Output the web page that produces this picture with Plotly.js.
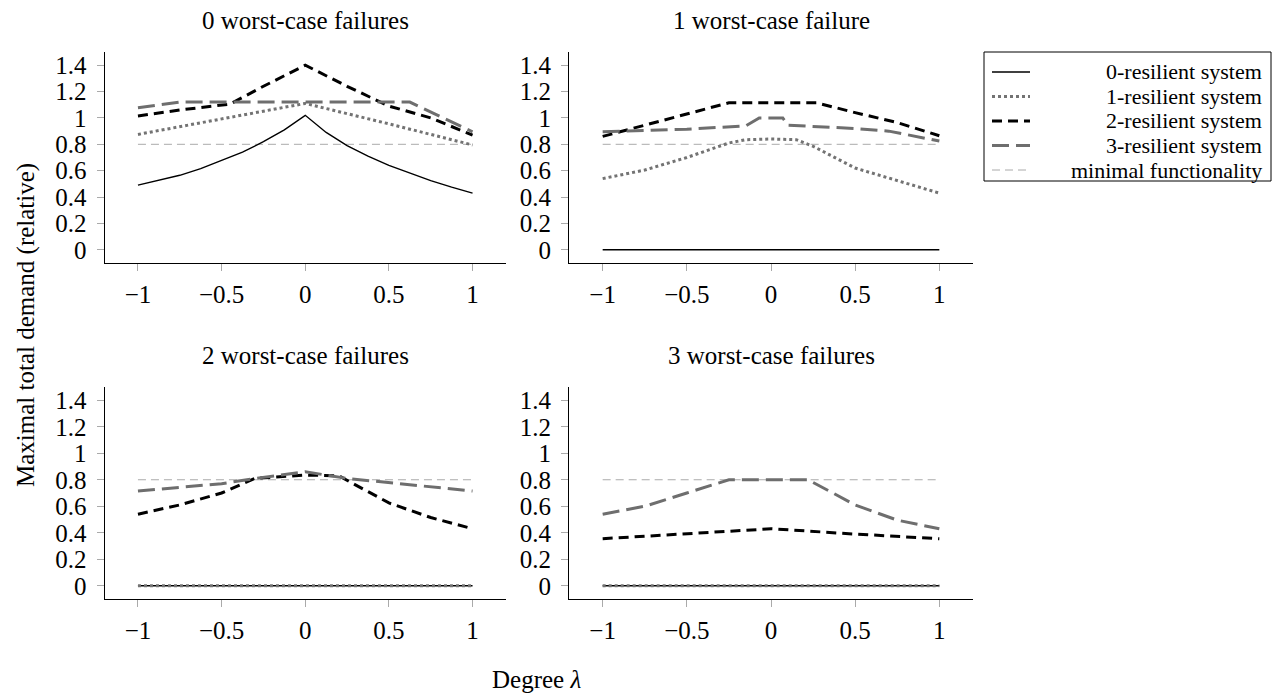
<!DOCTYPE html>
<html><head><meta charset="utf-8">
<script src="https://cdn.plot.ly/plotly-3.0.1.min.js"></script>
<style>body{margin:0;background:#fff}#chart{width:1276px;height:695px}</style>
</head><body><div id="chart"></div>
<script>
// ---------- data ----------
const panelTitles = ['0 worst-case failures','1 worst-case failure','2 worst-case failures','3 worst-case failures'];
const seriesNames = ['0-resilient system','1-resilient system','2-resilient system','3-resilient system','minimal functionality'];
const xTickVals = [-1,-0.5,0,0.5,1];
const xTickText = ['−1','−0.5','0','0.5','1'];
const yTickVals = [0,0.2,0.4,0.6,0.8,1,1.2,1.4];
const yTickText = ['0','0.2','0.4','0.6','0.8','1','1.2','1.4'];

// panel 0: 0 worst-case failures
const p0_res0_x = [-1,-0.875,-0.75,-0.625,-0.5,-0.375,-0.25,-0.125,0,0.125,0.25,0.375,0.5,0.625,0.75,0.875,1];
const p0_res0_y = [0.49,0.525,0.565,0.615,0.675,0.74,0.82,0.91,1.02,0.89,0.79,0.71,0.64,0.58,0.525,0.475,0.43];
const p0_res1_x = [-1,-0.5,0,0.5,1];
const p0_res1_y = [0.875,0.995,1.11,0.955,0.795];
const p0_res2_x = [-1,-0.75,-0.45,-0.25,0,0.25,0.5,0.75,1];
const p0_res2_y = [1.015,1.06,1.105,1.24,1.40,1.24,1.09,1.0,0.87];
const p0_res3_x = [-1,-0.75,0,0.625,1];
const p0_res3_y = [1.078,1.12,1.12,1.12,0.895];

// panel 1: 1 worst-case failure
const p1_res0_x = [-1,1];
const p1_res0_y = [0,0];
const p1_res1_x = [-1,-0.75,-0.5,-0.25,-0.15,0,0.15,0.25,0.5,0.75,1];
const p1_res1_y = [0.54,0.605,0.70,0.81,0.835,0.84,0.835,0.785,0.62,0.525,0.43];
const p1_res2_x = [-1,-0.5,-0.25,0,0.27,0.5,0.75,1];
const p1_res2_y = [0.86,1.03,1.115,1.115,1.115,1.04,0.965,0.865];
const p1_res3_x = [-1,-0.5,-0.15,-0.07,0,0.07,0.1,0.5,0.7,1];
const p1_res3_y = [0.895,0.915,0.94,1.0,1.0,1.0,0.945,0.92,0.9,0.825];

// panel 2: 2 worst-case failures
const p2_res0_x = [-1,1];
const p2_res0_y = [0,0];
const p2_res1_x = [-1,1];
const p2_res1_y = [0,0];
const p2_res2_x = [-1,-0.75,-0.5,-0.3,0,0.2,0.5,0.75,1];
const p2_res2_y = [0.54,0.61,0.70,0.81,0.835,0.83,0.625,0.515,0.43];
const p2_res3_x = [-1,-0.5,-0.3,0,0.25,0.5,1];
const p2_res3_y = [0.715,0.77,0.81,0.86,0.81,0.78,0.715];

// panel 3: 3 worst-case failures
const p3_res0_x = [-1,1];
const p3_res0_y = [0,0];
const p3_res1_x = [-1,1];
const p3_res1_y = [0,0];
const p3_res2_x = [-1,-0.5,0,0.5,1];
const p3_res2_y = [0.355,0.39,0.43,0.39,0.355];
const p3_res3_x = [-1,-0.75,-0.5,-0.25,0,0.22,0.5,0.75,1];
const p3_res3_y = [0.54,0.60,0.70,0.80,0.80,0.80,0.61,0.495,0.43];

// minimal functionality (all panels)
const minFunc_x = [-1,1];
const minFunc_y = [0.8,0.8];

// ---------- styles ----------
const W = 1276, H = 695;
const FONT = 'Liberation Serif, Times New Roman, serif';
const FS = 25;
const LEG_FS = 22;
const styles = [
  {color:'#000000', width:1.4, dash:'solid'},
  {color:'#737373', width:3, dash:'3px,3px'},
  {color:'#000000', width:3, dash:'10px,6px'},
  {color:'#6e6e6e', width:3, dash:'17px,7px'},
  {color:'#aaaaaa', width:1, dash:'8px,5px'}
];

const panels = [
  [[p0_res0_x,p0_res0_y],[p0_res1_x,p0_res1_y],[p0_res2_x,p0_res2_y],[p0_res3_x,p0_res3_y]],
  [[p1_res0_x,p1_res0_y],[p1_res1_x,p1_res1_y],[p1_res2_x,p1_res2_y],[p1_res3_x,p1_res3_y]],
  [[p2_res0_x,p2_res0_y],[p2_res1_x,p2_res1_y],[p2_res2_x,p2_res2_y],[p2_res3_x,p2_res3_y]],
  [[p3_res0_x,p3_res0_y],[p3_res1_x,p3_res1_y],[p3_res2_x,p3_res2_y],[p3_res3_x,p3_res3_y]]
];

const px = v => v / W;
const py = v => 1 - v / H;

const xDomains = [[104.5/W, 506/W],[569/W, 973/W]];
const yDomains = [[1-263/H, 1-52/H],[1-599/H, 1-387/H]];

const traces = [];
panels.forEach((p, i) => {
  const xa = i === 0 ? 'x' : 'x' + (i+1);
  const ya = i === 0 ? 'y' : 'y' + (i+1);
  traces.push({x:minFunc_x, y:minFunc_y, xaxis:xa, yaxis:ya, mode:'lines', name:seriesNames[4],
    line:styles[4], hoverinfo:'skip', showlegend:false});
  p.forEach((s, k) => {
    traces.push({x:s[0], y:s[1], xaxis:xa, yaxis:ya, mode:'lines', name:seriesNames[k],
      line:styles[k], showlegend:false});
  });
});

function xAxis(dom, anchor){
  return {domain:dom, anchor:anchor, range:[-1.2,1.2], showgrid:false, zeroline:false,
    showline:true, linecolor:'#000', linewidth:1, ticks:'outside', ticklen:7, tickwidth:1,
    tickcolor:'#aaaaaa', tickvals:xTickVals, ticktext:xTickText, ticklabelstandoff:2,
    tickfont:{family:FONT, size:FS, color:'#000'}, fixedrange:true};
}
function yAxis(dom, anchor){
  return {domain:dom, anchor:anchor, range:[-0.1,1.5], showgrid:false, zeroline:false,
    showline:true, linecolor:'#000', linewidth:1, ticks:'outside', ticklen:7, tickwidth:1,
    tickcolor:'#aaaaaa', tickvals:yTickVals, ticktext:yTickText, ticklabelstandoff:5,
    tickfont:{family:FONT, size:FS, color:'#000'}, fixedrange:true};
}

const layout = {
  width:W, height:H, margin:{l:0,r:0,t:0,b:0}, paper_bgcolor:'#fff', plot_bgcolor:'#fff',
  showlegend:false, font:{family:FONT, color:'#000'},
  xaxis: xAxis(xDomains[0],'y'),  yaxis: yAxis(yDomains[0],'x'),
  xaxis2: xAxis(xDomains[1],'y2'), yaxis2: yAxis(yDomains[0],'x2'),
  xaxis3: xAxis(xDomains[0],'y3'), yaxis3: yAxis(yDomains[1],'x3'),
  xaxis4: xAxis(xDomains[1],'y4'), yaxis4: yAxis(yDomains[1],'x4'),
  annotations: [], shapes: []
};

// subplot titles
const titlePos = [[305,20],[771,20],[305,355],[771,355]];
panelTitles.forEach((t,i) => {
  layout.annotations.push({text:t, xref:'paper', yref:'paper', x:px(titlePos[i][0]), y:py(titlePos[i][1]),
    xanchor:'center', yanchor:'middle', showarrow:false, font:{family:FONT, size:FS, color:'#000'}});
});
// axis titles
layout.annotations.push({text:'Maximal total demand (relative)', xref:'paper', yref:'paper', x:px(26), y:py(325),
  xanchor:'center', yanchor:'middle', textangle:-90, showarrow:false, font:{family:FONT, size:FS, color:'#000'}});
layout.annotations.push({text:'Degree <i>λ</i>', xref:'paper', yref:'paper', x:px(536), y:py(679),
  xanchor:'center', yanchor:'middle', showarrow:false, font:{family:FONT, size:FS, color:'#000'}});

// custom legend (right-aligned labels)
layout.shapes.push({type:'rect', xref:'paper', yref:'paper', x0:px(984), x1:px(1271), y0:py(52), y1:py(181),
  line:{color:'#000', width:1}, fillcolor:'rgba(255,255,255,1)'});
const rowY = [72, 96.5, 121, 145.5, 170];
seriesNames.forEach((n,k) => {
  layout.shapes.push({type:'line', xref:'paper', yref:'paper', x0:px(992), x1:px(1030), y0:py(rowY[k]), y1:py(rowY[k]),
    line:styles[k]});
  layout.annotations.push({text:n, xref:'paper', yref:'paper', x:px(1264), y:py(rowY[k]),
    xanchor:'right', yanchor:'middle', showarrow:false, font:{family:FONT, size:LEG_FS, color:'#000'}});
});

Plotly.newPlot('chart', traces, layout, {displayModeBar:false, staticPlot:true});
</script></body></html>
